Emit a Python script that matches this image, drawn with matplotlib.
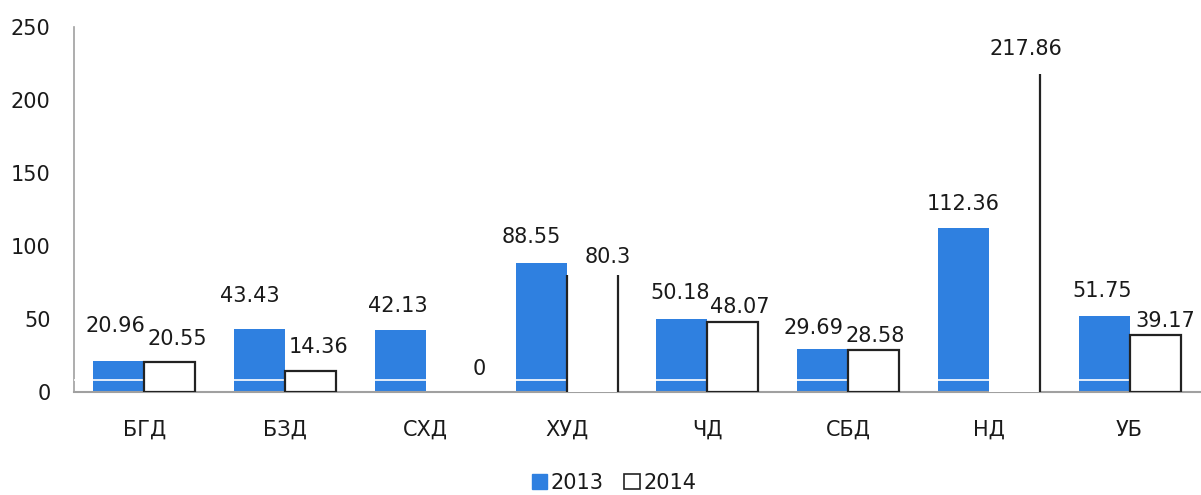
import matplotlib.pyplot as plt
import numpy as np

# data
categories = ['БГД', 'БЗД', 'СХД', 'ХУД', 'ЧД', 'СБД', 'НД', 'УБ']
values_2013 = [20.96, 43.43, 42.13, 88.55, 50.18, 29.69, 112.36, 51.75]
values_2014 = [20.55, 14.36, 0, 80.3, 48.07, 28.58, 217.86, 39.17]
labels_2013 = ['20.96', '43.43', '42.13', '88.55', '50.18', '29.69', '112.36', '51.75']
labels_2014 = ['20.55', '14.36', '0', '80.3', '48.07', '28.58', '217.86', '39.17']
y_ticks = [0, 50, 100, 150, 200, 250]

# label offsets (pixels) as they sit in the original
off_2013 = [(-3, 29), (-10, 27), (-3, 18), (-10, 20), (-2, 20), (-9, 15), (0, 18), (-2, 19)]
off_2014 = [(7, 17), (8, 18), (28, 17), (16, 12), (7, 9), (2, 8), (12, 19), (10, 8)]
# bars whose top edge is missing in the original: which vertical edges show
open_top = {'ХУД': (True, True), 'НД': (False, True)}

blue = '#2f80e0'
txt = '#1a1a1a'
edge = '#222222'

fig = plt.figure(figsize=(12.01, 4.95), dpi=100)
ax = fig.add_axes([74/1201, 103/495, 1126/1201, 365/495])

x = np.arange(len(categories))
w = 0.363

ax.bar(x - w/2, values_2013, width=w, color=blue, zorder=2)
# white fill first, outlines on top of the thin white line
ax.bar(x + w/2, values_2014, width=w, color='white', linewidth=0, zorder=3)
for i, cat in enumerate(categories):
    xc = x[i] + w/2
    if cat in open_top:
        left, right = open_top[cat]
        if left:
            ax.vlines(xc - w/2, 0, values_2014[i], color=edge, lw=1.6, zorder=5)
        if right:
            ax.vlines(xc + w/2, 0, values_2014[i], color=edge, lw=1.6, zorder=5)
    elif values_2014[i] > 0:
        ax.bar(xc, values_2014[i], width=w, fill=False, edgecolor=edge,
               linewidth=1.6, zorder=5)

# thin white line across the bars
ax.axhline(8, color='white', lw=1.2, zorder=4)

for i in range(len(categories)):
    ax.annotate(labels_2013[i], (x[i] - w/2, values_2013[i]), xytext=off_2013[i],
                textcoords='offset pixels', ha='center', va='baseline',
                fontsize=15, color=txt, zorder=6)
    ax.annotate(labels_2014[i], (x[i] + w/2, values_2014[i]), xytext=off_2014[i],
                textcoords='offset pixels', ha='center', va='baseline',
                fontsize=15, color=txt, zorder=6)

ax.set_xlim(-0.5, len(categories) - 0.5)
ax.set_ylim(0, 250)
ax.set_yticks(y_ticks)
ax.set_yticklabels([str(t) for t in y_ticks], fontsize=15, color=txt)
ax.set_xticks(x)
ax.set_xticklabels(categories, fontsize=15, color=txt)
ax.tick_params(axis='both', length=0)
ax.tick_params(axis='y', pad=17)
ax.tick_params(axis='x', pad=20)

for s in ['top', 'right']:
    ax.spines[s].set_visible(False)
ax.spines['left'].set_color('#a0a0a0')
ax.spines['bottom'].set_color('#a0a0a0')
ax.spines['left'].set_linewidth(1.2)
ax.spines['bottom'].set_linewidth(1.5)

h1 = plt.Rectangle((0, 0), 1, 1, facecolor=blue, edgecolor=blue)
h2 = plt.Rectangle((0, 0), 1, 1, facecolor='white', edgecolor=edge, linewidth=1.2)
fig.legend([h1, h2], ['2013', '2014'], loc='center', bbox_to_anchor=(614/1201, 0.025),
           ncol=2, frameon=False, fontsize=15, handlelength=0.75, handleheight=0.75,
           handletextpad=0.15, columnspacing=1.0, labelcolor=txt)

plt.savefig('out.png', dpi=100)
